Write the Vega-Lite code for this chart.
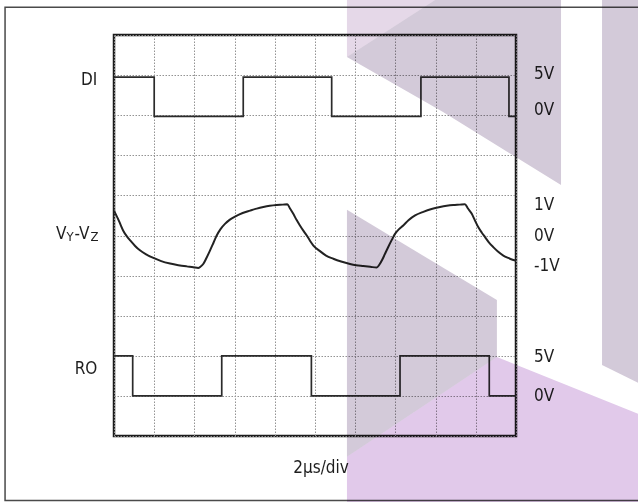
{
  "$schema": "https://vega.github.io/schema/vega-lite/v6.json",
  "width": 402,
  "height": 401,
  "autosize": {"type": "none"},
  "padding": {"left": 114, "top": 35, "right": 122, "bottom": 66},
  "background": "white",
  "config": {
    "view": {"stroke": "#1c1c1c", "strokeWidth": 2.5},
    "font": "DejaVu Sans Condensed, Liberation Sans Narrow, sans-serif"
  },
  "datasets": {
    "square": [
      {"s": "DI", "i": 0, "t": 0, "v": 8.95},
      {"s": "DI", "i": 1, "t": 2.0, "v": 8.95},
      {"s": "DI", "i": 2, "t": 2.0, "v": 7.97},
      {"s": "DI", "i": 3, "t": 6.43, "v": 7.97},
      {"s": "DI", "i": 4, "t": 6.43, "v": 8.95},
      {"s": "DI", "i": 5, "t": 10.83, "v": 8.95},
      {"s": "DI", "i": 6, "t": 10.83, "v": 7.97},
      {"s": "DI", "i": 7, "t": 15.27, "v": 7.97},
      {"s": "DI", "i": 8, "t": 15.27, "v": 8.95},
      {"s": "DI", "i": 9, "t": 19.65, "v": 8.95},
      {"s": "DI", "i": 10, "t": 19.65, "v": 7.97},
      {"s": "DI", "i": 11, "t": 20, "v": 7.97},
      {"s": "RO", "i": 0, "t": 0, "v": 2.0},
      {"s": "RO", "i": 1, "t": 0.93, "v": 2.0},
      {"s": "RO", "i": 2, "t": 0.93, "v": 1.0},
      {"s": "RO", "i": 3, "t": 5.36, "v": 1.0},
      {"s": "RO", "i": 4, "t": 5.36, "v": 2.0},
      {"s": "RO", "i": 5, "t": 9.82, "v": 2.0},
      {"s": "RO", "i": 6, "t": 9.82, "v": 1.0},
      {"s": "RO", "i": 7, "t": 14.23, "v": 1.0},
      {"s": "RO", "i": 8, "t": 14.23, "v": 2.0},
      {"s": "RO", "i": 9, "t": 18.67, "v": 2.0},
      {"s": "RO", "i": 10, "t": 18.67, "v": 1.0},
      {"s": "RO", "i": 11, "t": 20, "v": 1.0}
    ],
    "curve": [
      {"t": 0, "v": 5.62}, {"t": 0.25, "v": 5.36}, {"t": 0.46, "v": 5.12}, {"t": 0.65, "v": 4.97},
      {"t": 0.8, "v": 4.88}, {"t": 1.05, "v": 4.74}, {"t": 1.29, "v": 4.63}, {"t": 1.6, "v": 4.53},
      {"t": 1.96, "v": 4.44}, {"t": 2.35, "v": 4.36}, {"t": 2.79, "v": 4.3}, {"t": 3.2, "v": 4.26},
      {"t": 3.62, "v": 4.23}, {"t": 3.95, "v": 4.21}, {"t": 4.19, "v": 4.19},
      {"t": 4.3, "v": 4.22}, {"t": 4.44, "v": 4.29}, {"t": 4.6, "v": 4.44}, {"t": 4.78, "v": 4.63},
      {"t": 4.95, "v": 4.82}, {"t": 5.11, "v": 5.0}, {"t": 5.3, "v": 5.16}, {"t": 5.52, "v": 5.29},
      {"t": 5.75, "v": 5.39}, {"t": 6.02, "v": 5.47}, {"t": 6.4, "v": 5.56}, {"t": 6.77, "v": 5.62},
      {"t": 7.1, "v": 5.67}, {"t": 7.43, "v": 5.71}, {"t": 7.75, "v": 5.74}, {"t": 8.09, "v": 5.76},
      {"t": 8.4, "v": 5.77}, {"t": 8.62, "v": 5.78},
      {"t": 8.75, "v": 5.68}, {"t": 8.92, "v": 5.54}, {"t": 9.08, "v": 5.39}, {"t": 9.25, "v": 5.25},
      {"t": 9.42, "v": 5.12}, {"t": 9.59, "v": 5.0}, {"t": 9.75, "v": 4.87}, {"t": 9.92, "v": 4.75},
      {"t": 10.25, "v": 4.61}, {"t": 10.55, "v": 4.5}, {"t": 10.91, "v": 4.42}, {"t": 11.3, "v": 4.35},
      {"t": 11.74, "v": 4.29}, {"t": 12.05, "v": 4.26}, {"t": 12.4, "v": 4.24}, {"t": 12.75, "v": 4.22},
      {"t": 13.07, "v": 4.2},
      {"t": 13.2, "v": 4.27}, {"t": 13.35, "v": 4.4}, {"t": 13.48, "v": 4.54}, {"t": 13.65, "v": 4.72},
      {"t": 13.82, "v": 4.89}, {"t": 13.98, "v": 5.04}, {"t": 14.18, "v": 5.16}, {"t": 14.39, "v": 5.25},
      {"t": 14.65, "v": 5.38}, {"t": 14.98, "v": 5.5}, {"t": 15.39, "v": 5.59}, {"t": 15.8, "v": 5.66},
      {"t": 16.22, "v": 5.71}, {"t": 16.55, "v": 5.74}, {"t": 16.88, "v": 5.76}, {"t": 17.2, "v": 5.77},
      {"t": 17.46, "v": 5.78},
      {"t": 17.6, "v": 5.68}, {"t": 17.8, "v": 5.54}, {"t": 17.96, "v": 5.37}, {"t": 18.12, "v": 5.21},
      {"t": 18.3, "v": 5.07}, {"t": 18.46, "v": 4.96}, {"t": 18.65, "v": 4.83}, {"t": 18.87, "v": 4.71},
      {"t": 19.1, "v": 4.6}, {"t": 19.37, "v": 4.5}, {"t": 19.62, "v": 4.44}, {"t": 19.87, "v": 4.39},
      {"t": 20, "v": 4.37}
    ],
    "leftlab": [
      {"lab": "DI", "t": -0.83, "v": 8.87},
      {"lab": "RO", "t": -0.83, "v": 1.67}
    ],
    "vlab": [
      {"t": -2.89, "v": 5.04}
    ],
    "rightlab": [
      {"lab": "5V", "t": 20.9, "v": 9.03},
      {"lab": "0V", "t": 20.9, "v": 8.14},
      {"lab": "1V", "t": 20.9, "v": 5.75},
      {"lab": "0V", "t": 20.9, "v": 4.99},
      {"lab": "-1V", "t": 20.9, "v": 4.25},
      {"lab": "5V", "t": 20.9, "v": 1.98},
      {"lab": "0V", "t": 20.9, "v": 0.99}
    ],
    "xlab": [
      {"lab": "2µs/div", "t": 10.3, "v": -0.79}
    ],
    "border": [
      {"t1": -5.42, "t2": 27, "v1": -1.61, "v2": 10.69}
    ],
    "wm": [
      {"shape": "pinkTop", "t": 11.59, "top": 11, "bot": 9.45},
      {"shape": "pinkTop", "t": 16.37, "top": 11, "bot": 11},
      {"shape": "grayTop", "t": 11.59, "top": 9.45, "bot": 9.45},
      {"shape": "grayTop", "t": 16.37, "top": 11, "bot": 8.08},
      {"shape": "grayTop", "t": 22.24, "top": 11, "bot": 6.26},
      {"shape": "grayLow", "t": 11.59, "top": 5.64, "bot": -0.52},
      {"shape": "grayLow", "t": 19.05, "top": 3.39, "bot": 1.97},
      {"shape": "pinkLow", "t": 11.59, "top": -0.52, "bot": -1.7},
      {"shape": "pinkLow", "t": 19.05, "top": 1.97, "bot": -1.7},
      {"shape": "pinkLow", "t": 26.1, "top": 0.55, "bot": -1.7},
      {"shape": "grayRight", "t": 24.28, "top": 11, "bot": 1.77},
      {"shape": "grayRight", "t": 26.1, "top": 11, "bot": 1.32}
    ]
  },
  "layer": [
    {
      "data": {"name": "border"},
      "mark": {"type": "rect", "fill": null, "stroke": "#4a4a4a", "strokeWidth": 1.5, "clip": false},
      "encoding": {
        "x": {"field": "t1", "type": "quantitative", "scale": {"domain": [0, 20], "nice": false, "zero": false},
          "axis": {"values": [0, 2, 4, 6, 8, 10, 12, 14, 16, 18, 20], "grid": true, "gridDash": [1.5, 1.5], "gridColor": "#939393", "gridWidth": 1, "labels": false, "ticks": false, "domain": false, "title": null}},
        "x2": {"field": "t2"},
        "y": {"field": "v1", "type": "quantitative", "scale": {"domain": [0, 10], "nice": false, "zero": false},
          "axis": {"values": [0, 1, 2, 3, 4, 5, 6, 7, 8, 9, 10], "grid": true, "gridDash": [1.5, 1.5], "gridColor": "#939393", "gridWidth": 1, "labels": false, "ticks": false, "domain": false, "title": null}},
        "y2": {"field": "v2"}
      }
    },
    {
      "mark": {"type": "rule", "color": "#9a9a9a", "strokeWidth": 2},
      "encoding": {"y": {"datum": 5, "type": "quantitative"}}
    },
    {
      "data": {"name": "square"},
      "mark": {"type": "line", "color": "#2b2b2b", "strokeWidth": 1.7, "interpolate": "linear"},
      "encoding": {
        "x": {"field": "t", "type": "quantitative"},
        "y": {"field": "v", "type": "quantitative"},
        "detail": {"field": "s"},
        "order": {"field": "i", "type": "quantitative"}
      }
    },
    {
      "data": {"name": "curve"},
      "mark": {"type": "line", "color": "#222222", "strokeWidth": 2, "interpolate": "monotone"},
      "encoding": {
        "x": {"field": "t", "type": "quantitative"},
        "y": {"field": "v", "type": "quantitative"}
      }
    },
    {
      "data": {"name": "leftlab"},
      "mark": {"type": "text", "align": "right", "baseline": "middle", "fontSize": 17, "color": "#1e1e1e", "clip": false},
      "encoding": {
        "x": {"field": "t", "type": "quantitative"},
        "y": {"field": "v", "type": "quantitative"},
        "text": {"field": "lab"}
      }
    },
    {
      "data": {"name": "vlab"},
      "layer": [
        {"mark": {"type": "text", "align": "left", "baseline": "middle", "fontSize": 17, "color": "#1e1e1e", "clip": false, "dx": 0},
         "encoding": {"x": {"field": "t", "type": "quantitative"}, "y": {"field": "v", "type": "quantitative"}, "text": {"value": "V"}}},
        {"mark": {"type": "text", "align": "left", "baseline": "middle", "fontSize": 13, "color": "#1e1e1e", "clip": false, "dx": 10.5, "dy": 3},
         "encoding": {"x": {"field": "t", "type": "quantitative"}, "y": {"field": "v", "type": "quantitative"}, "text": {"value": "Y"}}},
        {"mark": {"type": "text", "align": "left", "baseline": "middle", "fontSize": 17, "color": "#1e1e1e", "clip": false, "dx": 18.5},
         "encoding": {"x": {"field": "t", "type": "quantitative"}, "y": {"field": "v", "type": "quantitative"}, "text": {"value": "-V"}}},
        {"mark": {"type": "text", "align": "left", "baseline": "middle", "fontSize": 13, "color": "#1e1e1e", "clip": false, "dx": 34.5, "dy": 3},
         "encoding": {"x": {"field": "t", "type": "quantitative"}, "y": {"field": "v", "type": "quantitative"}, "text": {"value": "Z"}}}
      ]
    },
    {
      "data": {"name": "rightlab"},
      "mark": {"type": "text", "align": "left", "baseline": "middle", "fontSize": 17, "color": "#1e1e1e", "clip": false},
      "encoding": {
        "x": {"field": "t", "type": "quantitative"},
        "y": {"field": "v", "type": "quantitative"},
        "text": {"field": "lab"}
      }
    },
    {
      "data": {"name": "xlab"},
      "mark": {"type": "text", "align": "center", "baseline": "middle", "fontSize": 17, "color": "#1e1e1e", "clip": false},
      "encoding": {
        "x": {"field": "t", "type": "quantitative"},
        "y": {"field": "v", "type": "quantitative"},
        "text": {"field": "lab"}
      }
    },
    {
      "data": {"name": "wm"},
      "mark": {"type": "area", "clip": false, "blend": "multiply", "opacity": 1},
      "encoding": {
        "x": {"field": "t", "type": "quantitative"},
        "y": {"field": "top", "type": "quantitative"},
        "y2": {"field": "bot"},
        "detail": {"field": "shape"},
        "color": {"field": "shape", "type": "nominal", "legend": null,
          "scale": {"domain": ["pinkTop", "grayTop", "grayLow", "pinkLow", "grayRight"],
                    "range": ["#e5d8e8", "#d3cad9", "#d3cad9", "#e1c9ea", "#d3cad9"]}}
      }
    }
  ]
}
